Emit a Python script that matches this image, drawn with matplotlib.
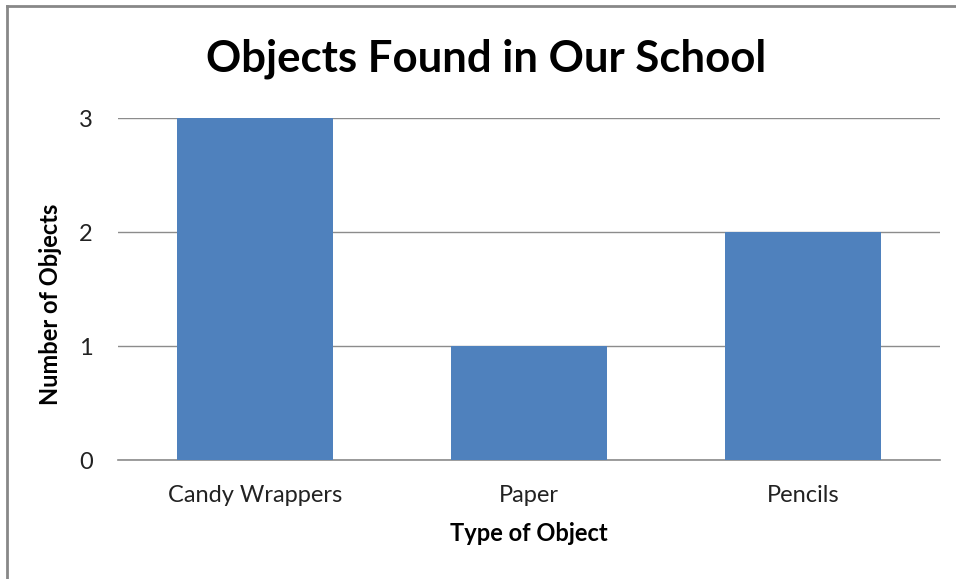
import matplotlib.pyplot as plt
from matplotlib.lines import Line2D

categories = ["Candy Wrappers", "Paper", "Pencils"]
counts = [3, 1, 2]
yticks = [0, 1, 2, 3]

plt.rcParams['font.family'] = ['Lato', 'DejaVu Sans']

fig = plt.figure(figsize=(9.56, 5.79), dpi=100)
ax = fig.add_axes([0.1234, 0.2055, 0.86, 0.5907])

x = list(range(len(categories)))
ax.bar(x, counts, width=0.57, color="#4F81BD", zorder=3)
ax.set_xlim(-0.5, len(categories) - 0.5)
ax.set_ylim(0, 3)
ax.set_yticks(yticks)
ax.set_xticks(x)
ax.set_xticklabels(categories, fontsize=17, color="#222222")
ax.tick_params(axis='y', labelsize=17, length=0, pad=18, colors="#222222")
ax.tick_params(axis='x', length=0, pad=18)
ax.grid(axis='y', color="#8c8c8c", linewidth=1, zorder=0)
for s in ["top", "right", "left"]:
    ax.spines[s].set_visible(False)
ax.spines["bottom"].set_color("#8c8c8c")
ax.spines["bottom"].set_linewidth(1.2)

ax.set_xlabel("Type of Object", fontsize=17, fontweight="bold", va="center")
ax.xaxis.set_label_coords(0.5, -0.216)
ax.set_ylabel("Number of Objects", fontsize=17, fontweight="bold", va="center")
ax.yaxis.set_label_coords(-0.0815, 0.456)
fig.text(0.508, 0.899, "Objects Found in Our School", fontsize=31.5,
         fontweight="bold", ha="center", va="center")

# outer chart border (top and left visible)
fig.add_artist(Line2D([7/956, 1.0], [1 - 6/579, 1 - 6/579], color="#888888", linewidth=2))
fig.add_artist(Line2D([7/956, 7/956], [0, 1 - 6/579], color="#888888", linewidth=2))

fig.savefig("out.png", dpi=100)
